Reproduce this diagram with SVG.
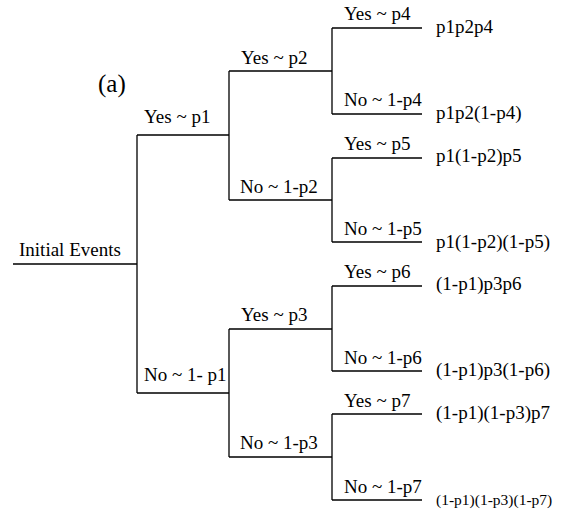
<svg xmlns="http://www.w3.org/2000/svg" width="562" height="512" viewBox="0 0 562 512">
<style>
text{font-family:'Liberation Serif','DejaVu Serif',serif;font-size:19px;fill:#000}
.small{font-size:15.5px}
.big{font-size:25px}
#connectors path{fill:none;stroke:#000;stroke-width:1.3}
</style>
<rect width="562" height="512" fill="#fff"/>
<g id="connectors">
<path d="M13 264H137M137 135V393M137 135H229M137 393H229"/>
<path d="M229 71V200M229 71H332M229 200H332M229 329V457M229 329H332M229 457H332"/>
<path d="M332 28V114M332 28H422M332 114H422M332 158V242M332 158H422M332 242H422"/>
<path d="M332 286V371M332 286H422M332 371H422M332 414V500M332 414H422M332 500H422"/>
</g>
<g id="title"><text class="big" x="98" y="92">(a)</text></g>
<g id="initial"><text x="19" y="256">Initial Events</text></g>
<g id="n-p1"><text x="144" y="123">Yes ~ p1</text></g>
<g id="n-notp1"><text x="144" y="381">No ~ 1- p1</text></g>
<g id="n-p2"><text x="241" y="64">Yes ~ p2</text></g>
<g id="n-notp2"><text x="240" y="193">No ~ 1-p2</text></g>
<g id="n-p3"><text x="241" y="321">Yes ~ p3</text></g>
<g id="n-notp3"><text x="240" y="449">No ~ 1-p3</text></g>
<g id="n-p4"><text x="344" y="20">Yes ~ p4</text></g>
<g id="n-notp4"><text x="344" y="106">No ~ 1-p4</text></g>
<g id="n-p5"><text x="344" y="150">Yes ~ p5</text></g>
<g id="n-notp5"><text x="344" y="235">No ~ 1-p5</text></g>
<g id="n-p6"><text x="344" y="278">Yes ~ p6</text></g>
<g id="n-notp6"><text x="344" y="364">No ~ 1-p6</text></g>
<g id="n-p7"><text x="344" y="407">Yes ~ p7</text></g>
<g id="n-notp7"><text x="344" y="493">No ~ 1-p7</text></g>
<g id="r1"><text x="436" y="33">p1p2p4</text></g>
<g id="r2"><text x="436" y="119">p1p2(1-p4)</text></g>
<g id="r3"><text x="436" y="162">p1(1-p2)p5</text></g>
<g id="r4"><text x="436" y="248">p1(1-p2)(1-p5)</text></g>
<g id="r5"><text x="436" y="290">(1-p1)p3p6</text></g>
<g id="r6"><text x="436" y="376">(1-p1)p3(1-p6)</text></g>
<g id="r7"><text x="436" y="419">(1-p1)(1-p3)p7</text></g>
<g id="r8"><text class="small" x="436" y="505">(1-p1)(1-p3)(1-p7)</text></g>
</svg>
